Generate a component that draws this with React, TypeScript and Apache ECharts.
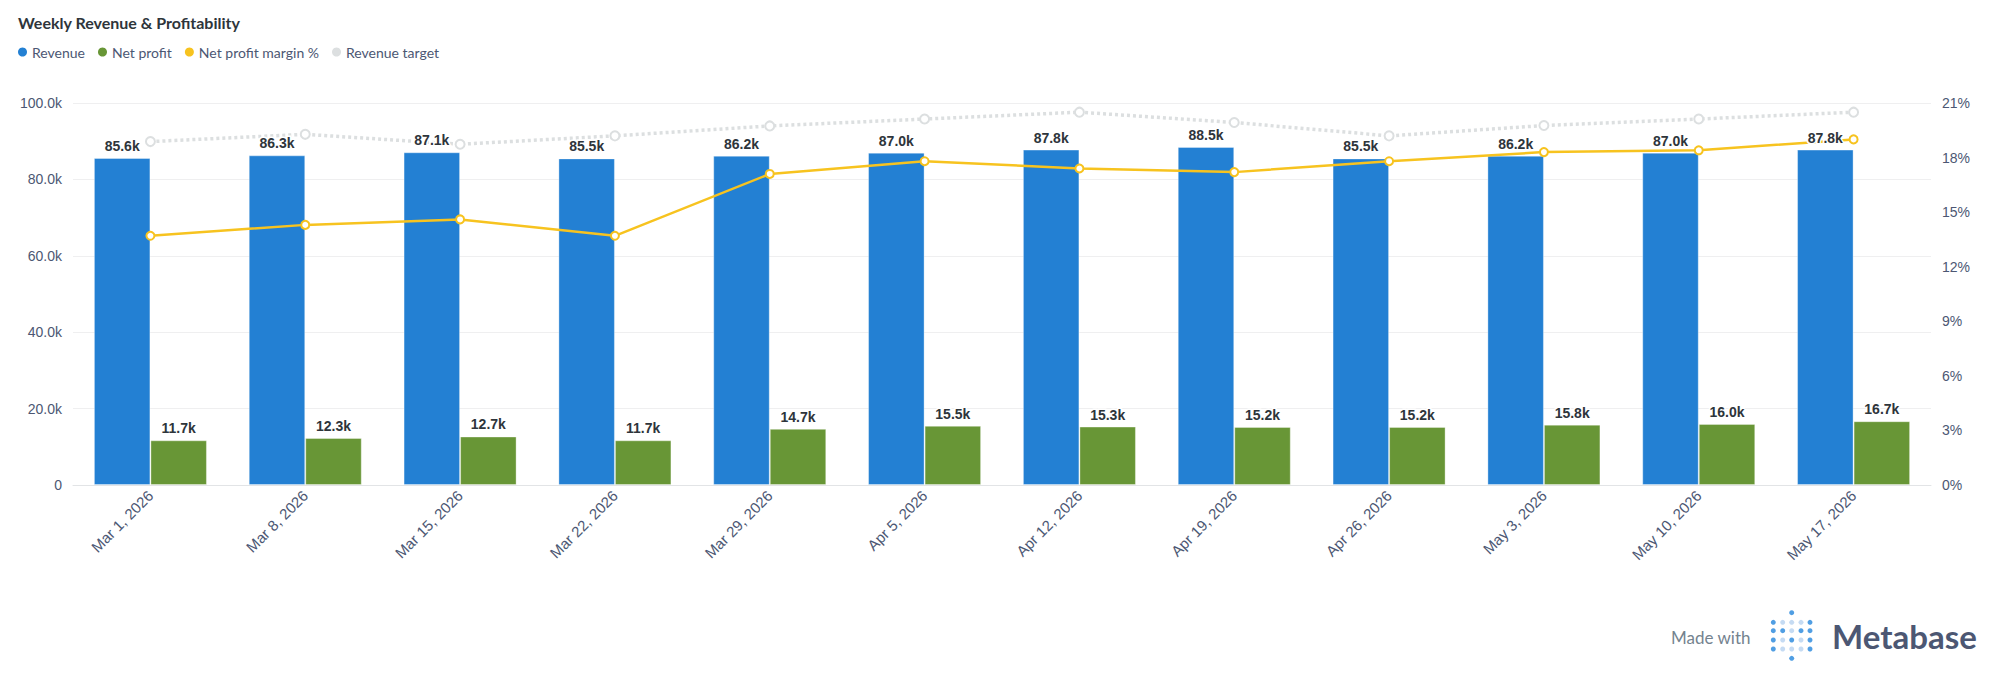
import React, { useEffect, useRef } from "react";
import * as echarts from "echarts";

const weeks = [
  "Mar 1, 2026", "Mar 8, 2026", "Mar 15, 2026", "Mar 22, 2026", "Mar 29, 2026", "Apr 5, 2026",
  "Apr 12, 2026", "Apr 19, 2026", "Apr 26, 2026", "May 3, 2026", "May 10, 2026", "May 17, 2026",
];
const revenue = [85600, 86300, 87100, 85500, 86200, 87000, 87800, 88500, 85500, 86200, 87000, 87800];
const netProfit = [11700, 12300, 12700, 11700, 14700, 15500, 15300, 15200, 15200, 15800, 16000, 16700];
const marginPct = [13.7, 14.3, 14.6, 13.7, 17.1, 17.8, 17.4, 17.2, 17.8, 18.3, 18.4, 19.0];
const revenueTarget = [89900, 91800, 89200, 91400, 94000, 95800, 97600, 94900, 91400, 94100, 95800, 97600];

const BLUE = "#2380d3";
const GREEN = "#689636";
const YELLOW = "#f7c31f";
const GRAY = "#dcdfe0";
const AXIS_FONT = "'Liberation Sans', Arial, Helvetica, sans-serif";
const LATO = "Lato, 'Noto Sans', sans-serif";

const kFmt = (v: number) => (v === 0 ? "0" : (v / 1000).toFixed(1) + "k");

// Metabase logo dot grid: 1 = dark, 0 = light
const logoRows = [
  [0, 0, 1, 0, 0],
  [1, 0, 0, 0, 1],
  [1, 1, 0, 1, 1],
  [1, 0, 1, 0, 1],
  [1, 0, 0, 0, 1],
  [0, 0, 1, 0, 0],
];

export default function App() {
  const ref = useRef<HTMLDivElement>(null);
  useEffect(() => {
    if (!ref.current) return;
    const chart = echarts.init(ref.current, undefined, { renderer: "svg" });

    const logo: any[] = [];
    const colX = [1773.3, 1782.7, 1791.7, 1801, 1810];
    const rowY = [612.7, 622.3, 630.7, 640, 649, 658.3];
    logoRows.forEach((row, ri) => {
      row.forEach((c, ci) => {
        const edge = ri === 0 || ri === 5;
        if (edge && ci !== 2) return;
        logo.push({
          type: "circle",
          shape: { cx: colX[ci], cy: rowY[ri], r: 2.5 },
          style: { fill: c ? "#509ee3" : "#c5dbf3" },
        });
      });
    });

    const dataLabel = {
      show: true,
      position: "top",
      distance: 5,
      formatter: (p: any) => kFmt(p.value),
      fontFamily: AXIS_FONT,
      fontSize: 14,
      fontWeight: "bold",
      color: "#2e353b",
      textBorderColor: "#ffffff",
      textBorderWidth: 3,
    };

    const xAxisBase = {
      type: "category",
      data: weeks,
      axisTick: { show: false },
    };

    chart.setOption({
      animation: false,
      backgroundColor: "#ffffff",
      title: {
        text: "Weekly Revenue & Profitability",
        left: 18,
        top: 14,
        padding: 0,
        textStyle: { fontFamily: LATO, fontSize: 16, fontWeight: "bold", color: "#2e353b" },
      },
      legend: {
        left: 18,
        top: 45,
        padding: 0,
        icon: "circle",
        itemWidth: 9,
        itemHeight: 9,
        itemGap: 13,
        textStyle: { fontFamily: LATO, fontSize: 14, color: "#4c5773" },
        data: [
          { name: "Revenue", itemStyle: { color: BLUE, borderWidth: 0 } },
          { name: "Net profit", itemStyle: { color: GREEN, borderWidth: 0 } },
          { name: "Net profit margin %", itemStyle: { color: YELLOW, borderWidth: 0 } },
          { name: "Revenue target", itemStyle: { color: GRAY, borderWidth: 0 } },
        ],
      },
      grid: { left: 73, right: 85, top: 103, bottom: 212, containLabel: false },
      xAxis: [
        {
          ...xAxisBase,
          axisLine: { lineStyle: { color: "#e2e4e6", width: 1 } },
          axisLabel: {
            rotate: 45,
            margin: 8,
            fontFamily: AXIS_FONT,
            fontSize: 15,
            color: "#4c5773",
            interval: 0,
          },
        },
        {
          ...xAxisBase,
          show: false,
        },
      ],
      yAxis: [
        {
          type: "value",
          min: 0,
          max: 100000,
          interval: 20000,
          axisLine: { show: false },
          axisTick: { show: false },
          splitLine: { lineStyle: { color: "#efeff0", width: 1 } },
          axisLabel: {
            formatter: kFmt,
            margin: 11,
            fontFamily: AXIS_FONT,
            fontSize: 14,
            color: "#4c5773",
          },
        },
        {
          type: "value",
          position: "right",
          min: 0,
          max: 21,
          interval: 3,
          axisLine: { show: false },
          axisTick: { show: false },
          splitLine: { show: false },
          axisLabel: {
            formatter: "{value}%",
            margin: 11,
            fontFamily: AXIS_FONT,
            fontSize: 14,
            color: "#4c5773",
          },
        },
      ],
      series: [
        {
          name: "Revenue",
          type: "bar",
          yAxisIndex: 0,
          data: revenue,
          barGap: "0%",
          barCategoryGap: "27%",
          itemStyle: { color: BLUE, borderColor: "rgba(255,255,255,0.35)", borderWidth: 1 },
          z: 2,
        },
        {
          name: "Net profit",
          type: "bar",
          yAxisIndex: 0,
          data: netProfit,
          barGap: "0%",
          barCategoryGap: "27%",
          itemStyle: { color: GREEN, borderColor: "rgba(255,255,255,0.35)", borderWidth: 1 },
          z: 2,
        },
        {
          name: "Net profit margin %",
          type: "line",
          yAxisIndex: 1,
          data: marginPct,
          color: YELLOW,
          symbol: "emptyCircle",
          symbolSize: 8,
          lineStyle: { color: YELLOW, width: 2.5 },
          itemStyle: { color: YELLOW, borderColor: YELLOW, borderWidth: 2 },
          z: 4,
        },
        {
          name: "Revenue target",
          type: "line",
          yAxisIndex: 0,
          data: revenueTarget,
          color: GRAY,
          symbol: "emptyCircle",
          symbolSize: 9,
          lineStyle: { color: GRAY, width: 3.5, type: [3, 3] },
          itemStyle: { color: GRAY, borderColor: GRAY, borderWidth: 2.5 },
          z: 3,
        },
        // transparent overlay bars carrying the value labels above the lines
        {
          name: "Revenue label",
          type: "bar",
          xAxisIndex: 1,
          yAxisIndex: 0,
          data: revenue,
          barGap: "0%",
          barCategoryGap: "27%",
          silent: true,
          itemStyle: { color: "rgba(0,0,0,0)" },
          label: dataLabel,
          z: 10,
        },
        {
          name: "Net profit label",
          type: "bar",
          xAxisIndex: 1,
          yAxisIndex: 0,
          data: netProfit,
          barGap: "0%",
          barCategoryGap: "27%",
          silent: true,
          itemStyle: { color: "rgba(0,0,0,0)" },
          label: dataLabel,
          z: 10,
        },
      ],
      graphic: [
        {
          type: "text",
          x: 1671,
          y: 637,
          style: {
            text: "Made with",
            fontFamily: LATO,
            fontSize: 17,
            fill: "#74838f",
            verticalAlign: "middle",
            align: "left",
          },
        },
        ...logo,
        {
          type: "text",
          x: 1832,
          y: 636,
          style: {
            text: "Metabase",
            fontFamily: LATO,
            fontSize: 33,
            fontWeight: "bold",
            fill: "#4c5773",
            verticalAlign: "middle",
            align: "left",
          },
        },
      ],
    });
    return () => chart.dispose();
  }, []);
  return (
    <div
      ref={ref}
      style={{ position: "fixed", left: 0, top: 0, width: 2016, height: 697, background: "#fff" }}
    />
  );
}
